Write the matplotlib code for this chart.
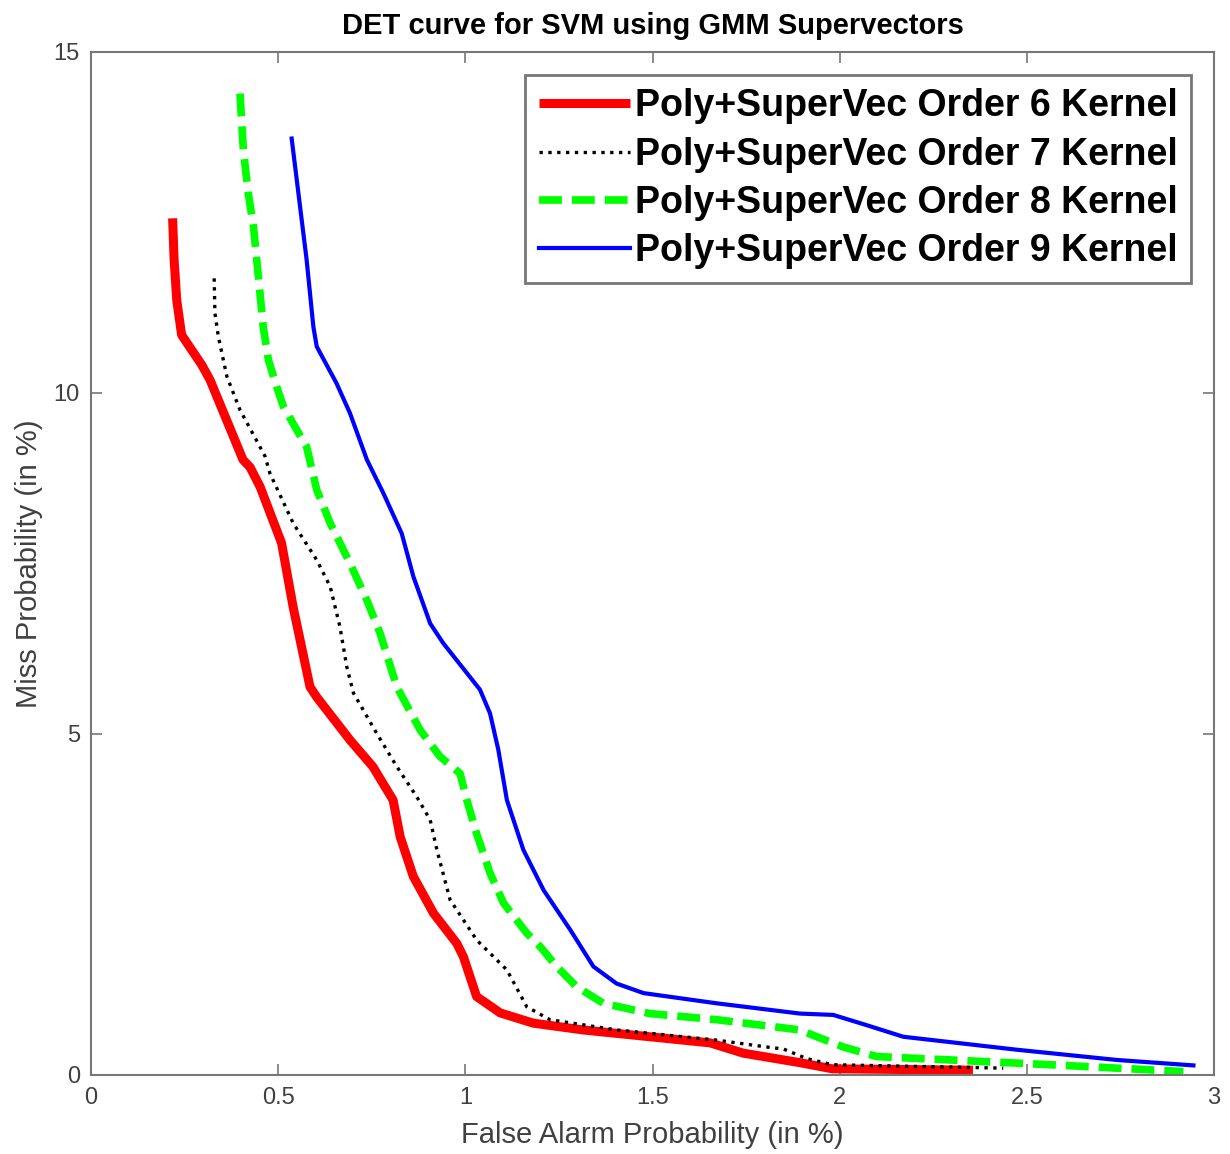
import numpy as np
import matplotlib
matplotlib.use("Agg")
import matplotlib.pyplot as plt

plt.rcParams['font.family'] = ['Liberation Sans', 'DejaVu Sans']

# order 6 kernel
fa6 = [0.218, 0.222, 0.229, 0.242, 0.296, 0.318, 0.406, 0.425, 0.452, 0.509, 0.540,
       0.585, 0.603, 0.692, 0.753, 0.807, 0.826, 0.861, 0.915, 0.977, 0.995, 1.030,
       1.093, 1.181, 1.314, 1.493, 1.654, 1.742, 1.894, 1.98, 2.356]
miss6 = [12.56, 11.95, 11.36, 10.85, 10.41, 10.19, 9.02, 8.91, 8.62, 7.80, 6.86,
         5.69, 5.54, 4.91, 4.52, 4.03, 3.49, 2.91, 2.37, 1.93, 1.73, 1.15,
         0.91, 0.76, 0.66, 0.56, 0.47, 0.32, 0.18, 0.09, 0.07]

# order 7 kernel
fa7 = [0.329, 0.331, 0.340, 0.363, 0.398, 0.465, 0.478, 0.540, 0.603, 0.639, 0.665,
       0.683, 0.701, 0.763, 0.817, 0.870, 0.906, 0.924, 0.959, 1.030, 1.111, 1.164,
       1.226, 1.404, 1.582, 1.672, 1.805, 1.850, 1.912, 1.98, 2.437]
miss7 = [11.68, 11.17, 10.83, 10.24, 9.75, 9.07, 8.82, 8.09, 7.55, 7.16, 6.57,
         5.99, 5.60, 5.01, 4.52, 4.08, 3.74, 3.30, 2.57, 1.98, 1.54, 1.00,
         0.81, 0.66, 0.56, 0.51, 0.41, 0.38, 0.24, 0.15, 0.10]

# order 8 kernel
fa8 = [0.398, 0.407, 0.420, 0.434, 0.447, 0.460, 0.474, 0.496, 0.514, 0.540, 0.576,
       0.603, 0.639, 0.692, 0.737, 0.772, 0.817, 0.879, 0.932, 0.986, 1.004, 1.030,
       1.066, 1.102, 1.164, 1.200, 1.244, 1.298, 1.369, 1.493, 1.672, 1.894, 1.939,
       2.010, 2.099, 2.295, 2.562, 2.918]
miss8 = [14.39, 13.56, 12.93, 12.44, 11.71, 10.97, 10.48, 10.09, 9.80, 9.55, 9.21,
         8.58, 8.09, 7.50, 6.96, 6.48, 5.69, 5.06, 4.67, 4.42, 4.03, 3.54,
         2.96, 2.52, 2.08, 1.88, 1.59, 1.29, 1.05, 0.90, 0.81, 0.66, 0.56,
         0.41, 0.27, 0.22, 0.15, 0.05]

# order 9 kernel
fa9 = [0.536, 0.554, 0.576, 0.594, 0.603, 0.656, 0.692, 0.737, 0.781, 0.830, 0.861,
       0.906, 0.941, 1.039, 1.066, 1.088, 1.111, 1.155, 1.209, 1.280, 1.342, 1.404,
       1.476, 1.672, 1.894, 1.983, 2.072, 2.170, 2.473, 2.740, 2.945]
miss9 = [13.73, 12.93, 11.95, 10.97, 10.68, 10.14, 9.70, 9.02, 8.53, 7.94, 7.31,
         6.62, 6.33, 5.65, 5.30, 4.77, 4.03, 3.30, 2.71, 2.13, 1.59, 1.34,
         1.20, 1.05, 0.90, 0.88, 0.73, 0.56, 0.37, 0.22, 0.14]

labels = ["Poly+SuperVec Order 6 Kernel", "Poly+SuperVec Order 7 Kernel",
          "Poly+SuperVec Order 8 Kernel", "Poly+SuperVec Order 9 Kernel"]

fig = plt.figure(figsize=(12.3, 11.54), dpi=100)
ax = fig.add_axes([0.074, 0.0685, 0.913, 0.8865])

ax.plot(fa6, miss6, color='#ff0000', lw=6.5, solid_capstyle='butt',
        solid_joinstyle='round', label=labels[0])
ax.plot(fa7, miss7, color='black', lw=2.4, ls=':', label=labels[1])
ax.plot(fa8, miss8, color='#00ff00', lw=5.5, ls=(0, (3, 1.3)), label=labels[2])
ax.plot(fa9, miss9, color='#0000ff', lw=3, solid_joinstyle='round', label=labels[3])

ax.set_xlim(0, 3)
ax.set_ylim(0, 15)
ax.set_xticks([0, 0.5, 1, 1.5, 2, 2.5, 3])
ax.set_xticklabels(['0', '0.5', '1', '1.5', '2', '2.5', '3'])
ax.set_yticks([0, 5, 10, 15])
ax.tick_params(direction='in', top=True, right=True, length=8, width=1.2,
               labelsize=17, colors='#777777', labelcolor='#404040')
ax.tick_params(axis='x', pad=9)
ax.tick_params(axis='y', pad=8)
for s in ax.spines.values():
    s.set_color('#777777')
    s.set_linewidth(1.5)

ax.set_title("DET curve for SVM using GMM Supervectors", fontsize=21,
             fontweight='bold', pad=13)
ax.set_xlabel("False Alarm Probability (in %)", fontsize=21, color='#404040', labelpad=8)
ax.set_ylabel("Miss Probability (in %)", fontsize=21, color='#404040', labelpad=8)

leg = ax.legend(loc='upper right', prop={'weight': 'bold', 'size': 27},
                handlelength=2.45, handletextpad=0.12, borderaxespad=0.62,
                labelspacing=0.33, fancybox=False, framealpha=1,
                edgecolor='#777777', borderpad=0.35)
leg.get_frame().set_linewidth(2)

fig.savefig("out.png", dpi=100)
